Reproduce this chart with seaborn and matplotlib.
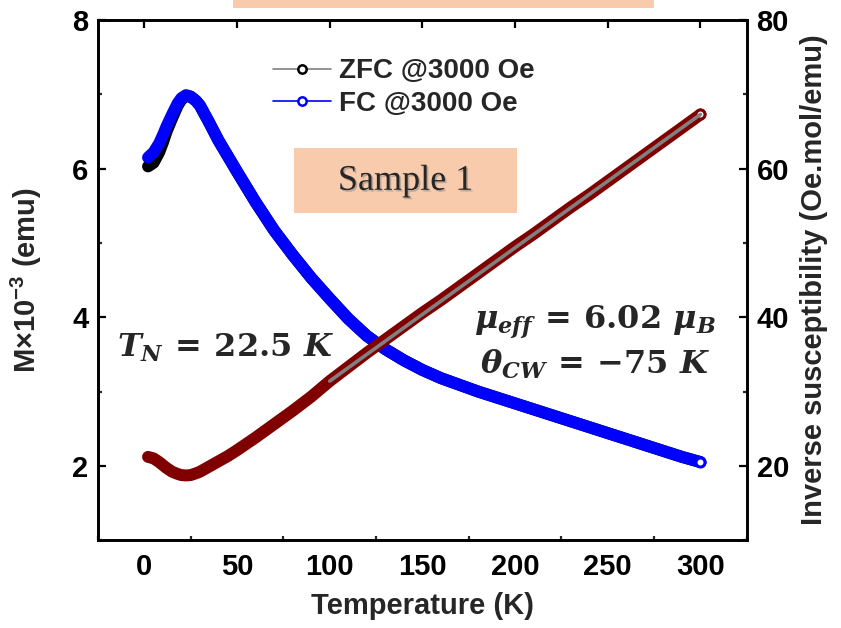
import matplotlib
matplotlib.use("Agg")
import matplotlib.pyplot as plt
from matplotlib.lines import Line2D
from matplotlib.patches import Rectangle
from matplotlib.ticker import MultipleLocator
import matplotlib.patheffects as pe
import pandas as pd
import seaborn as sns

# Temperature grid (K)
temperature = [2, 5, 8, 10, 12, 15, 18, 20, 22.5, 25, 28, 30, 35, 40, 45, 50,
               60, 70, 80, 90, 100, 110, 120, 130, 140, 150, 160, 170, 180,
               190, 200, 210, 220, 230, 240, 250, 260, 270, 280, 290, 300]

# Magnetisation (x10^-3 emu), zero-field-cooled
m_zfc = [6.03, 6.08, 6.22, 6.35, 6.50, 6.68, 6.85, 6.93, 6.98, 6.97, 6.91,
         6.85, 6.62, 6.38, 6.17, 5.96, 5.55, 5.17, 4.84, 4.53, 4.25, 3.98,
         3.75, 3.57, 3.42, 3.29, 3.18, 3.09, 3.00, 2.92, 2.84, 2.76, 2.68,
         2.60, 2.52, 2.44, 2.36, 2.28, 2.20, 2.12, 2.05]

# Magnetisation (x10^-3 emu), field-cooled
m_fc = [6.15, 6.22, 6.34, 6.45, 6.57, 6.73, 6.88, 6.95, 6.99, 6.97, 6.91,
        6.85, 6.62, 6.38, 6.17, 5.96, 5.55, 5.17, 4.84, 4.53, 4.25, 3.98,
        3.75, 3.57, 3.42, 3.29, 3.18, 3.09, 3.00, 2.92, 2.84, 2.76, 2.68,
        2.60, 2.52, 2.44, 2.36, 2.28, 2.20, 2.12, 2.05]

# Inverse susceptibility (Oe.mol/emu)
inv_chi = [21.2, 21.0, 20.5, 20.1, 19.7, 19.2, 18.9, 18.75, 18.7, 18.75, 19.0,
           19.2, 19.9, 20.6, 21.3, 22.1, 23.8, 25.6, 27.4, 29.3, 31.4, 33.3,
           35.2, 37.0, 38.8, 40.6, 42.3, 44.1, 45.9, 47.7, 49.5, 51.2, 53.0,
           54.8, 56.5, 58.3, 60.1, 61.9, 63.7, 65.5, 67.3]

# Curie-Weiss fit segment
fit_temperature = [100, 300]
fit_inv_chi = [31.4, 67.3]

x_ticks = [0, 50, 100, 150, 200, 250, 300]
left_ticks = [2, 4, 6, 8]
right_ticks = [20, 40, 60, 80]

legend_labels = ["ZFC @3000 Oe", "FC @3000 Oe"]

sns.set_theme(style="white")
plt.rcParams["font.family"] = ["Liberation Sans", "DejaVu Sans"]
plt.rcParams["font.weight"] = "bold"
plt.rcParams["mathtext.fontset"] = "custom"
plt.rcParams["mathtext.rm"] = "DejaVu Serif:bold"
plt.rcParams["mathtext.it"] = "DejaVu Serif:italic:bold"
plt.rcParams["mathtext.bf"] = "DejaVu Serif:bold"
plt.rcParams["mathtext.sf"] = "Liberation Sans:bold"

df = pd.DataFrame({"T": temperature, "zfc": m_zfc, "fc": m_fc, "inv": inv_chi})
fit_df = pd.DataFrame({"T": fit_temperature, "inv": fit_inv_chi})

fig = plt.figure(figsize=(8.41, 6.28), dpi=100)
ax = fig.add_axes([0.1165, 0.14, 0.7715, 0.828])
ax2 = ax.twinx()

maroon = "#800000"
blue = "#0000FF"
band = 8.6

sns.lineplot(data=df, x="T", y="zfc", ax=ax, color="black", lw=band,
             solid_capstyle="round", sort=False)
sns.lineplot(data=df, x="T", y="fc", ax=ax, color=blue, lw=band,
             solid_capstyle="round", sort=False)
ax.plot(df["T"].iloc[-1], df["fc"].iloc[-1], "o", ms=6.5, mfc="white",
        mec=blue, mew=2.2, zorder=5)

sns.lineplot(data=df, x="T", y="inv", ax=ax2, color=maroon, lw=band,
             solid_capstyle="round", sort=False)
ax2.plot(df["T"].iloc[-1], df["inv"].iloc[-1], "o", ms=6.5, mfc="white",
         mec=maroon, mew=2.2, zorder=5)
sns.lineplot(data=fit_df, x="T", y="inv", ax=ax2, color="#808080", lw=2.6,
             solid_capstyle="round", sort=False, zorder=6)

ax.set_xlim(-25, 325)
ax.set_ylim(1, 8)
ax2.set_ylim(10, 80)

ax.set_xticks(x_ticks)
ax.set_yticks(left_ticks)
ax2.set_yticks(right_ticks)
ax.xaxis.set_minor_locator(MultipleLocator(25))
ax.yaxis.set_minor_locator(MultipleLocator(1))
ax2.yaxis.set_minor_locator(MultipleLocator(10))

for a in (ax, ax2):
    for s in a.spines.values():
        s.set_linewidth(1.9)
        s.set_color("black")
    a.tick_params(which="major", direction="in", length=6, width=1.6,
                  labelsize=21, pad=7, colors="black")
    a.tick_params(which="minor", direction="in", length=3, width=1.6)
ax.tick_params(axis="x", which="major", top=True, pad=9)
ax.tick_params(axis="x", which="minor", top=False, bottom=True)
ax.tick_params(axis="y", which="both", left=True, right=False)
ax2.tick_params(axis="y", which="both", right=True, left=False)
for lab in ax.get_xticklabels() + ax.get_yticklabels() + ax2.get_yticklabels():
    lab.set_fontweight("bold")

ax.set_xlabel("Temperature (K)", fontsize=21, fontweight="bold", labelpad=8)
ax.set_ylabel(r"M×10$^{\mathsf{-3}}$ (emu)", fontsize=21, fontweight="bold",
              labelpad=20)
ax2.set_ylabel("Inverse susceptibility (Oe.mol/emu)", fontsize=21,
               fontweight="bold", labelpad=8)

handles = [
    Line2D([], [], color="#808080", lw=1.2, marker="o", ms=6, mfc="white",
           mec="black", mew=1.8),
    Line2D([], [], color=blue, lw=1.2, marker="o", ms=6, mfc="white",
           mec=blue, mew=1.8),
]
leg = ax.legend(handles, legend_labels, loc="upper left",
                bbox_to_anchor=(0.252, 0.948), frameon=False, fontsize=20,
                handlelength=2.1, handletextpad=0.3, labelspacing=0.25,
                borderaxespad=0)
for t in leg.get_texts():
    t.set_fontweight("bold")

# Sample tag
ax.add_patch(Rectangle((0.302, 0.629), 0.344, 0.125, transform=ax.transAxes,
                       facecolor="#F8CBAD", edgecolor="none", zorder=3))
ax.text(0.474, 0.69, "Sample 1", transform=ax.transAxes, ha="center",
        va="center", fontsize=26, family="Liberation Serif", fontweight="normal",
        zorder=4,
        path_effects=[pe.withSimplePatchShadow(offset=(1.2, -1.2),
                                               shadow_rgbFace="gray", alpha=0.5)])

# Header strip
fig.add_artist(Rectangle((0.277, 0.987), 0.501, 0.02, transform=fig.transFigure,
                         facecolor="#F8CBAD", edgecolor="none"))

ax.text(0.196, 0.369, r"$T_N\,=\,22.5\ K$", transform=ax.transAxes,
        ha="center", va="center", fontsize=23, zorder=7)
ax.text(0.766, 0.419, r"$\mu_{eff}\,=\,6.02\ \mu_B$", transform=ax.transAxes,
        ha="center", va="center", fontsize=23, zorder=7)
ax.text(0.766, 0.338, r"$\theta_{CW}\,=\,{-}75\ K$", transform=ax.transAxes,
        ha="center", va="center", fontsize=23, zorder=7)

fig.savefig("out.png", dpi=100)
